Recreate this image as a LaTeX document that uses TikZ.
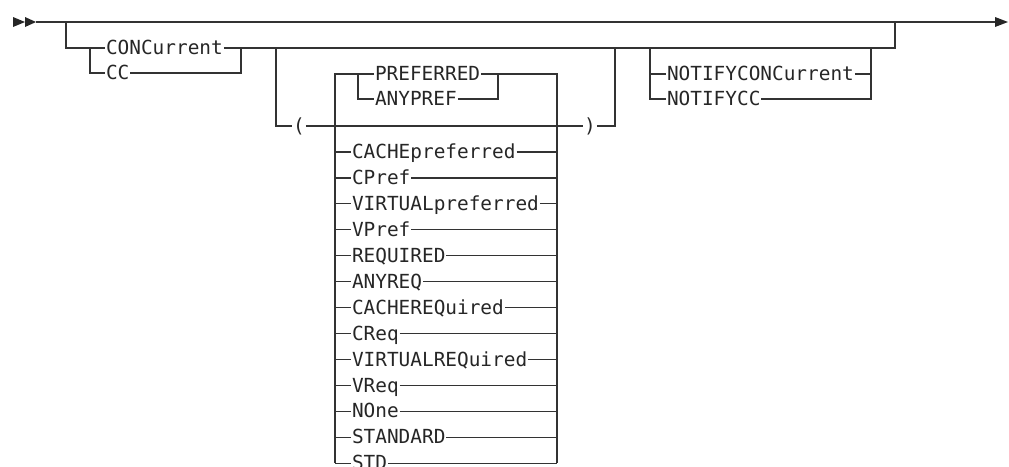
\documentclass[tikz,border=0pt]{standalone}
\usepackage{fontspec}
\newfontfamily\kwfont{DejaVu Sans Mono}
\begin{document}
\begin{tikzpicture}[x=1pt,y=-1pt,
  kw/.style={font=\kwfont\fontsize{19.4}{20}\selectfont, text=black!85, anchor=west,
    inner xsep=1pt, inner ysep=0pt, text height=13pt, text depth=0pt, outer sep=0pt},
  rr/.style={line width=1.2pt, draw=black!80, line join=miter},
  tip/.style={fill=black!85}]
\useasboundingbox (0,0) rectangle (1009,466);
\clip (0,0) rectangle (1009,466);
% start / end
\coordinate (st) at (36,22);
\coordinate (en) at (995,22);
\fill[tip] (13,17) -- (25,22) -- (13,27) -- cycle;
\fill[tip] (25,17) -- (36,22) -- (25,27) -- cycle;
\fill[tip] (995,17) -- (1008,22) -- (995,27) -- cycle;
\draw[rr] (st) -- (en);
\draw[rr, line width=2.2pt] (901,22) -- (924,22);
% group 1
\node[kw] (con) at (105,48) {CONCurrent};
\node[kw] (cc) at (105,73) {CC};
\draw[rr] (66,22) -- (66,48) -- (con.west);
\draw[rr] (90,48) |- (cc.west);
\draw[rr] (con.east) -- (895,48) -- (895,22);
\draw[rr] (cc.east) -| (241,48);
% group 2
\node[kw, anchor=center] (lp) at (299,126) {(};
\node[kw, anchor=center] (rp) at (590,126) {)};
\draw[rr] (276,48) |- (lp.west);
\draw[rr] (lp.east) -- (rp.west);
\draw[rr] (rp.east) -| (615,48);
\node[kw] (pref) at (374,74) {PREFERRED};
\node[kw] (anyp) at (374,99) {ANYPREF};
\draw[rr] (358,74) |- (anyp.west);
\draw[rr] (anyp.east) -| (498,74);
\draw[rr] (pref.west) -- (335,74) -- (335,{126+25.95*13});
\draw[rr] (pref.east) -- (557,74) -- (557,{126+25.95*13});
\foreach \t [count=\k] in {CACHEpreferred,CPref,VIRTUALpreferred,VPref,REQUIRED,ANYREQ,CACHEREQuired,CReq,VIRTUALREQuired,VReq,NOne,STANDARD,STD}{
  \node[kw] (i\k) at (351,{126+25.95*\k}) {\t};
  \draw[rr] (335,{126+25.95*\k}) -- (i\k.west);
  \draw[rr] (i\k.east) -- (557,{126+25.95*\k});
}
% group 3
\node[kw] (ncon) at (666,74) {NOTIFYCONCurrent};
\node[kw] (ncc) at (666,99) {NOTIFYCC};
\draw[rr] (650,48) -- (650,74) -- (ncon.west);
\draw[rr] (650,74) |- (ncc.west);
\draw[rr] (ncon.east) -- (871,74) -- (871,48);
\draw[rr] (ncc.east) -| (871,74);
\end{tikzpicture}
\end{document}
